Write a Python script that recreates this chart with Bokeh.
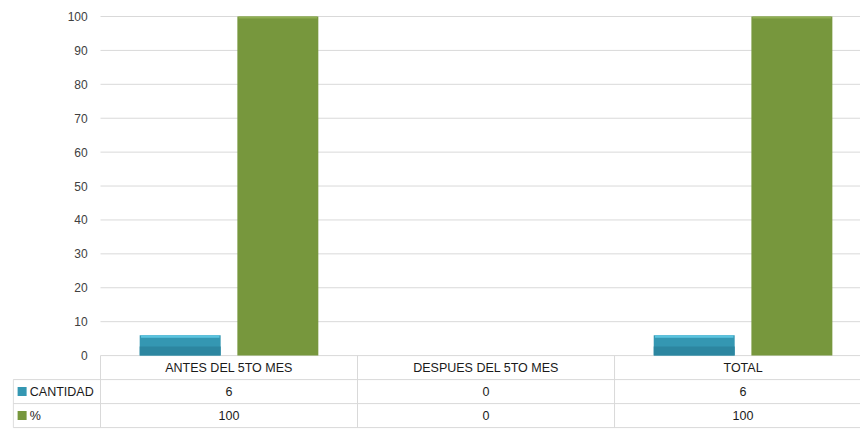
from bokeh.plotting import figure
from bokeh.models import Range1d
from bokeh.core.properties import value
from bokeh.embed import file_html
from bokeh.resources import INLINE

# ---- data ----
categories = ["ANTES DEL 5TO MES", "DESPUES DEL 5TO MES", "TOTAL"]
cantidad = [6, 0, 6]
porcentaje = [100, 0, 100]
series_names = ["CANTIDAD", "%"]
y_ticks = [0, 10, 20, 30, 40, 50, 60, 70, 80, 90, 100]

# ---- style ----
BLUE = "#3497b2"
BLUE_LOW = "#2c86a0"
BLUE_HI = "#5cc4df"
GREEN = "#77973d"
GREEN_HI = "#8fae52"
GRID = "#d9d9d9"
FONT = "Liberation Sans"
TXT = "#404040"
TXT2 = "#1a1a1a"
FS = "12.5px"

n = len(categories)
centers = [i + 0.5 for i in range(n)]
X_START = -0.3424
X_END = 2.957
BAR_W = 0.315
OFF = 0.19
ROW = 7.08  # table row height in y units
Y_TOP = 102.95
Y_BOT = -21.8

p = figure(width=860, height=430, x_range=Range1d(X_START, X_END), y_range=Range1d(Y_BOT, Y_TOP),
           output_backend="svg", toolbar_location=None,
           min_border_left=12, min_border_right=0, min_border_top=6, min_border_bottom=1)
p.outline_line_color = None
p.axis.visible = False
p.grid.visible = False

# gridlines
p.segment(x0=[0] * len(y_ticks), x1=[X_END] * len(y_ticks), y0=y_ticks, y1=y_ticks,
          line_color=GRID, line_width=1)
# y tick labels
p.text(x=[-0.05] * len(y_ticks), y=y_ticks, text=[str(v) for v in y_ticks],
       text_align="right", text_baseline="middle", text_font=value(FONT),
       text_font_size="12px", text_color=TXT)

# bars
xb = [c - OFF for c in centers]
xg = [c + OFF for c in centers]
p.vbar(x=xb, top=cantidad, width=BAR_W, fill_color=BLUE, line_color=None)
p.vbar(x=xb, top=[v * 0.45 for v in cantidad], width=BAR_W, fill_color=BLUE_LOW, line_color=None)
p.vbar(x=xg, top=porcentaje, width=BAR_W, fill_color=GREEN, line_color=None)
# bevel highlight at the top of each bar
p.vbar(x=xb, top=cantidad, bottom=[max(v - 0.75, 0) for v in cantidad], width=BAR_W * 0.97,
       fill_color=BLUE_HI, line_color=None)
p.vbar(x=xg, top=porcentaje, bottom=[max(v - 0.6, 0) for v in porcentaje], width=BAR_W * 0.97,
       fill_color=GREEN_HI, line_color=None)

# data table lines
rows_y = [-ROW, -2 * ROW, -3 * ROW]
p.segment(x0=[X_START + 0.003] * 3, x1=[X_END] * 3, y0=rows_y, y1=rows_y,
          line_color=GRID, line_width=1)
bx = [float(i) for i in range(n)]
p.segment(x0=bx, x1=bx, y0=[-3 * ROW] * n, y1=[0] * n, line_color=GRID, line_width=1)
p.segment(x0=[X_START + 0.003], x1=[X_START + 0.003], y0=[-3 * ROW], y1=[-ROW],
          line_color=GRID, line_width=1)

# table texts
p.text(x=centers, y=[-0.5 * ROW] * n, text=categories, text_align="center", text_baseline="middle",
       text_font=value(FONT), text_font_size=FS, text_color=TXT2)
p.text(x=centers, y=[-1.5 * ROW] * n, text=[str(v) for v in cantidad], text_align="center",
       text_baseline="middle", text_font=value(FONT), text_font_size=FS, text_color=TXT2)
p.text(x=centers, y=[-2.5 * ROW] * n, text=[str(v) for v in porcentaje], text_align="center",
       text_baseline="middle", text_font=value(FONT), text_font_size=FS, text_color=TXT2)
# legend keys + row labels
p.scatter(x=[-0.305, -0.305], y=[-1.5 * ROW, -2.5 * ROW], marker="square", size=9,
          fill_color=[BLUE, GREEN], line_color=None)
p.text(x=[-0.275, -0.275], y=[-1.5 * ROW, -2.5 * ROW], text=series_names, text_align="left",
       text_baseline="middle", text_font=value(FONT), text_font_size=FS, text_color=TXT2)

open("out.html", "w").write(file_html(p, INLINE))
